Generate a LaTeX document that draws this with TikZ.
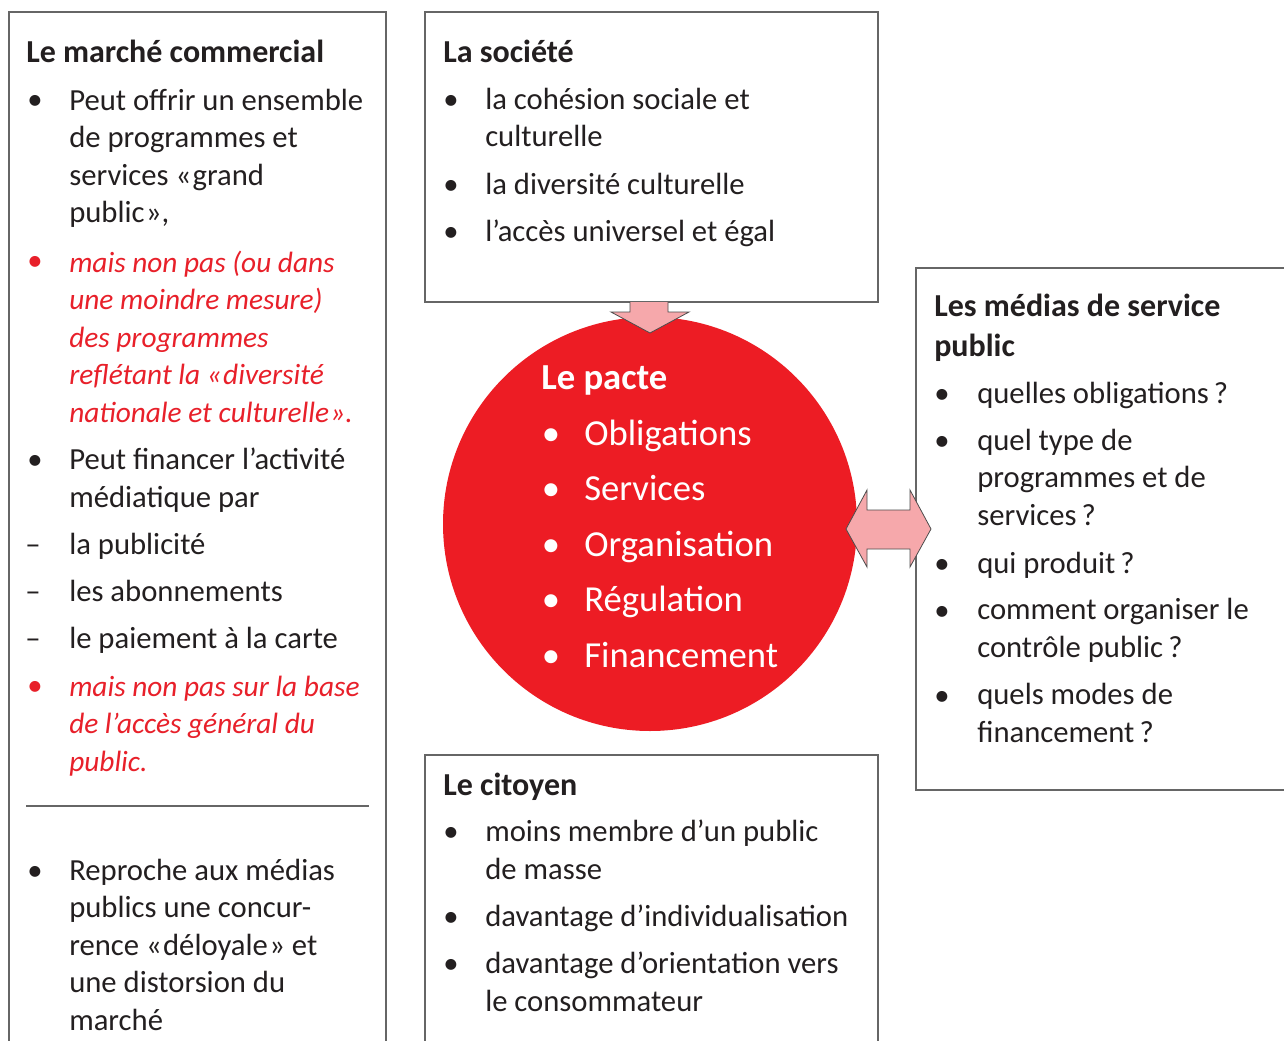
\documentclass[tikz,border=0pt]{standalone}
\usepackage{fontspec}
\setmainfont{Carlito}
\definecolor{txt}{HTML}{231F20}
\definecolor{pacte}{HTML}{ED1C24}
\definecolor{rouge}{HTML}{E8202A}
\definecolor{rose}{HTML}{F6A8AB}
\definecolor{cadre}{HTML}{666666}
\newcommand{\fq}{\kern1pt}
\tikzset{
  cadre/.style={draw=cadre,line width=0.8pt},
  txt/.style={anchor=base west,inner sep=0pt,align=left,text=txt,font=\fontsize{23}{28.1}\selectfont},
  titre/.style={txt,font=\fontsize{24}{29.3}\selectfont\bfseries},
  rg/.style={txt,text=rouge,font=\fontsize{22}{28.1}\selectfont\itshape},
  puce/.style={anchor=base,inner sep=0pt,text=txt,font=\fontsize{23}{28.1}\selectfont},
  blanc/.style={anchor=base west,inner sep=0pt,text=white,font=\fontsize{27.5}{37}\selectfont},
  fleche/.style={fill=rose,draw=black!70,line width=0.6pt,line join=miter}
}
\begin{document}
\begin{tikzpicture}[x=0.75pt,y=-0.75pt]
\fill[white] (0,0) rectangle (1284,1041);
\useasboundingbox (0,0) rectangle (1284,1041);
% cadres
\draw[cadre] (9,1050) -- (9,12) -- (386,12) -- (386,1050);
\draw[cadre] (425,12) rectangle (878,302);
\draw[cadre] (1290,268) -- (916,268) -- (916,790) -- (1290,790);
\draw[cadre] (425,1050) -- (425,755) -- (878,755) -- (878,1050);
\draw[cadre] (26,806) -- (369,806);
% le pacte
\node[circle,fill=pacte,minimum size=310.5pt,inner sep=0pt] (pacte) at (650,524) {};
\node[blanc,font=\fontsize{27.5}{37}\selectfont\bfseries] (lepacte) at (541,389) {Le pacte};
\foreach \mot [count=\i] in {Obligations,Services,Organisation,Régulation,Financement}
{
  \node[blanc] (o\i) at (584,{445+55.5*(\i-1)}) {\mot};
  \node[blanc,anchor=base] (b\i) at (551,{445+55.5*(\i-1)}) {•};
}
% fleches
\draw[fleche] (630,302) -- (630,312) -- (611,312) -- (650,333) -- (689,312) -- (668,312) -- (668,302);
\draw[fleche] (846,529) -- (867,490) -- (867,510) -- (910,510) -- (910,490) -- (931,529)
  -- (910,567) -- (910,549) -- (867,549) -- (867,567) -- cycle;
% le marche commercial (base = derniere ligne)
\node[titre] (marche) at (26,63) {Le marché commercial};
\node[puce] (p1) at (35,110) {•};
\node[txt] (m1) at (69,222.5) {Peut offrir un ensemble\\de programmes et\\services «\fq grand\\public\fq»,};
\node[puce,text=rouge] (p2) at (35,271) {•};
\node[rg] (m2) at (69,422) {mais non pas (ou dans\\une moindre mesure)\\des programmes\\reflétant la «\fq diversité\\nationale et culturelle\fq».};
\node[puce] (p3) at (35,469) {•};
\node[txt] (m3) at (69,507) {Peut financer l’activité\\médiatique par};
\node[puce] (t1) at (33,554) {–};
\node[txt] (m4) at (69,554) {la publicité};
\node[puce] (t2) at (33,601) {–};
\node[txt] (m5) at (69,601) {les abonnements};
\node[puce] (t3) at (33,648) {–};
\node[txt] (m6) at (69,648) {le paiement à la carte};
\node[puce,text=rouge] (p4) at (35,695) {•};
\node[rg] (m7) at (69,771) {mais non pas sur la base\\de l’accès général du\\public.};
\node[puce] (p5) at (35,880) {•};
\node[txt] (m8) at (69,1030) {Reproche aux médias\\publics une concur-\\rence «\fq déloyale\fq» et\\une distorsion du\\marché};
% la societe
\node[titre] (societe) at (443,63) {La société};
\node[puce] (s1) at (451,110) {•};
\node[txt] (st1) at (485,147) {la cohésion sociale et\\culturelle};
\node[puce] (s2) at (451,195) {•};
\node[txt] (st2) at (485,195) {la diversité culturelle};
\node[puce] (s3) at (451,242) {•};
\node[txt] (st3) at (485,242) {l’accès universel et égal};
% les medias de service public
\node[titre] (medias) at (934,356) {Les médias de service\\public};
\node[puce] (r1) at (942,403) {•};
\node[txt] (rt1) at (977,403) {quelles obligations\,?};
\node[puce] (r2) at (942,450) {•};
\node[txt] (rt2) at (977,525) {quel type de\\programmes et de\\services\,?};
\node[puce] (r3) at (942,573) {•};
\node[txt] (rt3) at (977,573) {qui produit\,?};
\node[puce] (r4) at (942,620) {•};
\node[txt] (rt4) at (977,657) {comment organiser le\\contrôle public\,?};
\node[puce] (r5) at (942,705) {•};
\node[txt] (rt5) at (977,742) {quels modes de\\financement\,?};
% le citoyen
\node[titre] (citoyen) at (443,795) {Le citoyen};
\node[puce] (c1) at (451,841) {•};
\node[txt] (ct1) at (485,879) {moins membre d’un public\\de masse};
\node[puce] (c2) at (451,926) {•};
\node[txt] (ct2) at (485,926) {davantage d’individualisation};
\node[puce] (c3) at (451,973) {•};
\node[txt] (ct3) at (485,1011) {davantage d’orientation vers\\le consommateur};
\end{tikzpicture}
\end{document}
